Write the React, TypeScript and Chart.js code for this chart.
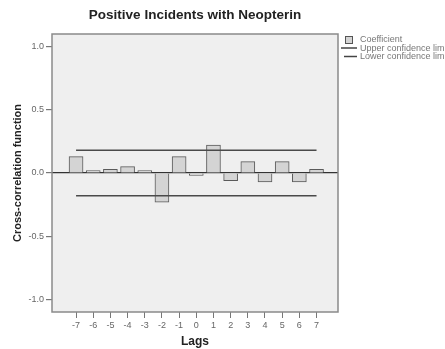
import React, { useEffect, useRef } from "react";
import { Chart, registerables } from "chart.js";

Chart.register(...registerables);

const lags = [-7, -6, -5, -4, -3, -2, -1, 0, 1, 2, 3, 4, 5, 6, 7];
const coefficients = [0.13, 0.02, 0.03, 0.05, 0.02, -0.23, 0.13, -0.02, 0.22, -0.06, 0.09, -0.07, 0.09, -0.07, 0.03];
const upperLimit = 0.18;
const lowerLimit = -0.18;
const yTickValues = [-1.0, -0.5, 0.0, 0.5, 1.0];
const legendLabels = ["Coefficient", "Upper confidence limit", "Lower confidence limit"];
const chartTitle = "Positive Incidents with Neopterin";
const xTitle = "Lags";
const yTitle = "Cross-correlation function";

const FONT = "'Liberation Sans', Arial, sans-serif";

const plotBgPlugin = {
  id: "plotBg",
  beforeDraw(chart: any) {
    const { ctx, chartArea } = chart;
    ctx.save();
    ctx.fillStyle = "#efefef";
    ctx.fillRect(chartArea.left, chartArea.top, chartArea.right - chartArea.left, chartArea.bottom - chartArea.top);
    ctx.restore();
  },
  afterDraw(chart: any) {
    const { ctx, chartArea } = chart;
    ctx.save();
    ctx.strokeStyle = "#8a8a8a";
    ctx.lineWidth = 1.5;
    ctx.strokeRect(chartArea.left, chartArea.top, chartArea.right - chartArea.left, chartArea.bottom - chartArea.top);
    // title centred over the plot area
    ctx.fillStyle = "#222";
    ctx.font = `bold 13.5px ${FONT}`;
    ctx.textAlign = "center";
    ctx.textBaseline = "middle";
    ctx.fillText(chartTitle, (chartArea.left + chartArea.right) / 2, 15);
    // legend
    const x0 = chartArea.right;
    ctx.textAlign = "left";
    ctx.font = `9px ${FONT}`;
    ctx.fillStyle = "#d4d4d4";
    ctx.fillRect(x0 + 7.5, 36.5, 7, 7);
    ctx.strokeStyle = "#555";
    ctx.lineWidth = 1;
    ctx.strokeRect(x0 + 7.5, 36.5, 7, 7);
    ctx.fillStyle = "#777";
    ctx.fillText(legendLabels[0], x0 + 22, 40);
    ctx.strokeStyle = "#444";
    ctx.lineWidth = 1.5;
    ctx.beginPath();
    ctx.moveTo(x0 + 3, 48);
    ctx.lineTo(x0 + 19, 48);
    ctx.stroke();
    ctx.fillText(legendLabels[1], x0 + 22, 48.5);
    ctx.beginPath();
    ctx.moveTo(x0 + 6, 56.5);
    ctx.lineTo(x0 + 19, 56.5);
    ctx.stroke();
    ctx.fillText(legendLabels[2], x0 + 22, 57);
    ctx.restore();
  },
};

export default function App() {
  const canvasRef = useRef<HTMLCanvasElement | null>(null);

  useEffect(() => {
    if (!canvasRef.current) return;
    const chart = new Chart(canvasRef.current, {
      type: "bar",
      data: {
        datasets: [
          {
            type: "bar",
            label: legendLabels[0],
            data: lags.map((x, i) => ({ x, y: coefficients[i] })),
            backgroundColor: "#d4d4d4",
            borderColor: "#5a5a5a",
            borderWidth: 1,
            barThickness: 14,
            order: 2,
          } as any,
          {
            type: "line",
            label: legendLabels[1],
            data: [
              { x: lags[0], y: upperLimit },
              { x: lags[lags.length - 1], y: upperLimit },
            ],
            borderColor: "#4a4a4a",
            borderWidth: 1.5,
            pointRadius: 0,
            order: 1,
          } as any,
          {
            type: "line",
            label: legendLabels[2],
            data: [
              { x: lags[0], y: lowerLimit },
              { x: lags[lags.length - 1], y: lowerLimit },
            ],
            borderColor: "#4a4a4a",
            borderWidth: 1.5,
            pointRadius: 0,
            order: 1,
          } as any,
        ],
      },
      options: {
        responsive: false,
        animation: false,
        layout: { padding: { top: 34, right: 107, left: 0, bottom: 0 } },
        plugins: {
          legend: { display: false },
          tooltip: { enabled: false },
          title: { display: false },
        },
        scales: {
          x: {
            type: "linear",
            offset: false,
            min: -8.4,
            max: 8.25,
            afterBuildTicks: (s: any) => {
              s.ticks = lags.map((v) => ({ value: v }));
            },
            afterFit: (s: any) => {
              s.height = 37;
            },
            grid: { offset: false, drawOnChartArea: false, tickLength: 6, color: "#777", lineWidth: 1 },
            border: { display: false },
            ticks: {
              font: { family: FONT, size: 9 },
              color: "#666",
              padding: 2,
              maxRotation: 0,
              autoSkip: false,
              callback: (v: any) => String(v),
            },
            title: {
              display: true,
              text: xTitle,
              color: "#222",
              font: { family: FONT, size: 12, weight: "bold" },
              padding: { top: 1, bottom: 0 },
            },
          },
          y: {
            min: -1.1,
            max: 1.1,
            afterBuildTicks: (s: any) => {
              s.ticks = yTickValues.map((v) => ({ value: v }));
            },
            afterFit: (s: any) => {
              s.width = 52;
            },
            grid: {
              color: (ctx: any) => (ctx.tick && ctx.tick.value === 0 ? "#333" : "rgba(0,0,0,0)"),
              tickColor: "#777",
              tickLength: 6,
              lineWidth: 1.2,
            },
            border: { display: false },
            ticks: {
              font: { family: FONT, size: 9 },
              color: "#666",
              padding: 2,
              callback: (v: any) => Number(v).toFixed(1),
            },
            title: {
              display: true,
              text: yTitle,
              color: "#222",
              font: { family: FONT, size: 11, weight: "bold" },
              padding: { top: 11, bottom: 0 },
            },
          },
        },
      } as any,
      plugins: [plotBgPlugin],
    });
    return () => chart.destroy();
  }, []);

  return (
    <div style={{ position: "fixed", left: 0, top: 0, width: 445, height: 349, background: "#fff" }}>
      <canvas ref={canvasRef} width={445} height={349} style={{ width: 445, height: 349 }} />
    </div>
  );
}
